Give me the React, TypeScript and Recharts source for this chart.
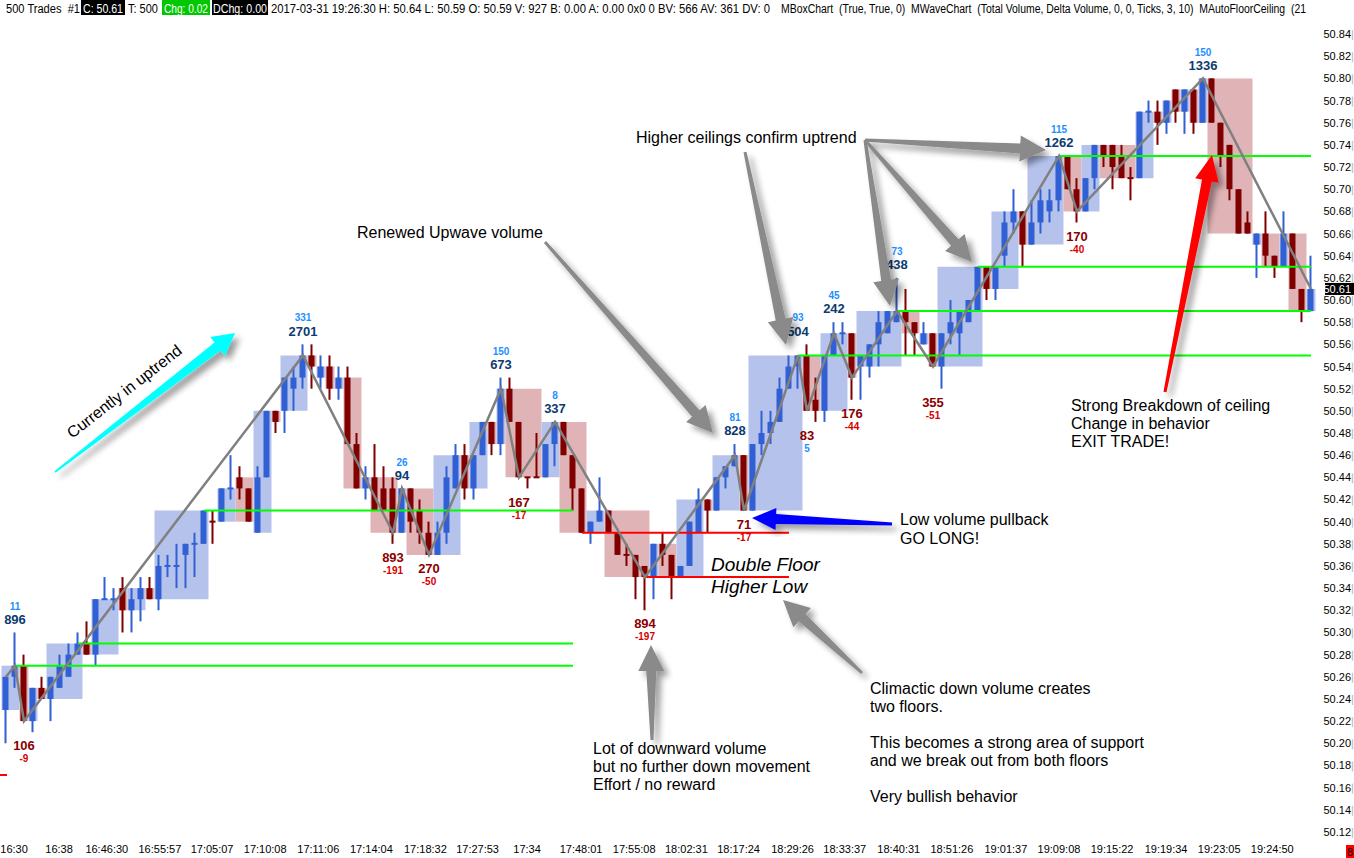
import React from 'react';
import { ComposedChart, Bar, Line, Scatter, XAxis, YAxis, ReferenceArea, ReferenceLine } from 'recharts';

// ---------- data ----------
const opens = [
  50.23, 50.26, 50.27, 50.22, 50.25, 50.24, 50.25, 50.26, 50.28, 50.29,
  50.28, 50.33, 50.33, 50.34, 50.32, 50.33, 50.34, 50.33, 50.36, 50.36,
  50.37, 50.38, 50.38, 50.40, 50.40, 50.43, 50.44, 50.43, 50.39, 50.44,
  50.50, 50.50, 50.52, 50.53, 50.55, 50.53, 50.54, 50.52, 50.53, 50.47,
  50.43, 50.44, 50.43, 50.43, 50.39, 50.43, 50.41, 50.39, 50.37, 50.39,
  50.43, 50.46, 50.43, 50.46, 50.49, 50.47, 50.52, 50.49, 50.44, 50.44,
  50.44, 50.47, 50.49, 50.46, 50.43, 50.39, 50.40, 50.41, 50.39, 50.37,
  50.37, 50.36, 50.35, 50.38, 50.37, 50.35, 50.36, 50.39, 50.42, 50.41,
  50.44, 50.45, 50.46, 50.41, 50.47, 50.48, 50.49, 50.52, 50.54, 50.55,
  50.51, 50.50, 50.55, 50.57, 50.57, 50.54, 50.54, 50.56, 50.57, 50.58,
  50.59, 50.58, 50.56, 50.57, 50.54, 50.57, 50.57, 50.58, 50.59, 50.63,
  50.61, 50.64, 50.67, 50.68, 50.65, 50.67, 50.68, 50.69, 50.73, 50.70,
  50.68, 50.71, 50.74, 50.74, 50.73, 50.71, 50.71, 50.77, 50.77, 50.76,
  50.79, 50.77, 50.79, 50.76, 50.80, 50.76, 50.74, 50.70, 50.67, 50.65,
  50.66, 50.64, 50.63, 50.66, 50.61, 50.59,
];
const highs = [
  50.26, 50.30, 50.28, 50.25, 50.26, 50.26, 50.28, 50.29, 50.30, 50.31,
  50.33, 50.35, 50.34, 50.35, 50.34, 50.35, 50.35, 50.37, 50.37, 50.38,
  50.38, 50.39, 50.41, 50.41, 50.43, 50.46, 50.45, 50.43, 50.45, 50.50,
  50.50, 50.53, 50.54, 50.56, 50.56, 50.55, 50.55, 50.54, 50.54, 50.48,
  50.45, 50.47, 50.45, 50.44, 50.43, 50.43, 50.42, 50.40, 50.40, 50.45,
  50.47, 50.47, 50.46, 50.49, 50.49, 50.53, 50.53, 50.49, 50.44, 50.48,
  50.47, 50.49, 50.49, 50.46, 50.43, 50.40, 50.44, 50.41, 50.39, 50.38,
  50.37, 50.36, 50.38, 50.39, 50.37, 50.36, 50.40, 50.43, 50.42, 50.44,
  50.45, 50.47, 50.46, 50.47, 50.50, 50.50, 50.53, 50.55, 50.55, 50.56,
  50.53, 50.55, 50.58, 50.58, 50.57, 50.55, 50.56, 50.59, 50.59, 50.62,
  50.61, 50.58, 50.58, 50.57, 50.57, 50.60, 50.59, 50.60, 50.63, 50.63,
  50.63, 50.68, 50.70, 50.68, 50.69, 50.70, 50.70, 50.73, 50.73, 50.71,
  50.71, 50.74, 50.74, 50.74, 50.74, 50.72, 50.77, 50.78, 50.78, 50.78,
  50.79, 50.79, 50.79, 50.80, 50.80, 50.76, 50.74, 50.70, 50.68, 50.66,
  50.68, 50.64, 50.68, 50.66, 50.61, 50.64,
];
const lows = [
  50.20, 50.25, 50.22, 50.21, 50.24, 50.22, 50.25, 50.26, 50.28, 50.28,
  50.27, 50.33, 50.32, 50.30, 50.30, 50.31, 50.33, 50.32, 50.35, 50.34,
  50.34, 50.35, 50.38, 50.38, 50.40, 50.42, 50.42, 50.40, 50.39, 50.44,
  50.48, 50.48, 50.50, 50.52, 50.52, 50.52, 50.51, 50.51, 50.47, 50.43,
  50.42, 50.41, 50.41, 50.38, 50.39, 50.39, 50.38, 50.37, 50.37, 50.38,
  50.43, 50.42, 50.42, 50.46, 50.46, 50.46, 50.49, 50.44, 50.43, 50.44,
  50.44, 50.45, 50.46, 50.41, 50.39, 50.38, 50.40, 50.39, 50.37, 50.36,
  50.33, 50.32, 50.33, 50.36, 50.33, 50.35, 50.36, 50.39, 50.39, 50.41,
  50.43, 50.45, 50.41, 50.41, 50.46, 50.47, 50.49, 50.52, 50.52, 50.50,
  50.49, 50.49, 50.55, 50.56, 50.51, 50.51, 50.53, 50.54, 50.57, 50.58,
  50.55, 50.55, 50.56, 50.54, 50.52, 50.56, 50.55, 50.58, 50.59, 50.60,
  50.60, 50.63, 50.66, 50.63, 50.65, 50.66, 50.67, 50.68, 50.70, 50.67,
  50.68, 50.70, 50.72, 50.70, 50.71, 50.69, 50.71, 50.76, 50.74, 50.75,
  50.76, 50.75, 50.75, 50.76, 50.76, 50.72, 50.69, 50.66, 50.66, 50.62,
  50.63, 50.62, 50.63, 50.61, 50.58, 50.59,
];
const closes = [
  50.26, 50.27, 50.22, 50.25, 50.24, 50.26, 50.27, 50.28, 50.29, 50.28,
  50.33, 50.33, 50.33, 50.32, 50.33, 50.34, 50.33, 50.36, 50.36, 50.36,
  50.38, 50.38, 50.41, 50.40, 50.43, 50.43, 50.43, 50.40, 50.44, 50.50,
  50.49, 50.53, 50.53, 50.55, 50.54, 50.54, 50.52, 50.53, 50.47, 50.43,
  50.44, 50.41, 50.41, 50.39, 50.43, 50.40, 50.39, 50.37, 50.39, 50.44,
  50.46, 50.43, 50.46, 50.49, 50.47, 50.52, 50.49, 50.44, 50.44, 50.44,
  50.47, 50.49, 50.46, 50.43, 50.39, 50.40, 50.41, 50.39, 50.37, 50.37,
  50.35, 50.35, 50.38, 50.37, 50.35, 50.36, 50.40, 50.42, 50.41, 50.44,
  50.45, 50.46, 50.41, 50.47, 50.48, 50.49, 50.52, 50.54, 50.55, 50.50,
  50.50, 50.55, 50.57, 50.57, 50.53, 50.55, 50.56, 50.58, 50.59, 50.59,
  50.58, 50.57, 50.57, 50.54, 50.57, 50.58, 50.59, 50.60, 50.63, 50.61,
  50.63, 50.67, 50.68, 50.65, 50.67, 50.69, 50.69, 50.73, 50.70, 50.68,
  50.71, 50.74, 50.73, 50.72, 50.71, 50.71, 50.77, 50.77, 50.76, 50.78,
  50.77, 50.79, 50.76, 50.80, 50.76, 50.73, 50.70, 50.66, 50.66, 50.66,
  50.64, 50.63, 50.66, 50.61, 50.59, 50.61,
];

// wave pivots (bar index), total volume and delta volume of each wave
const pivotIdx = [1, 2, 33, 43, 44, 47, 55, 57, 61, 71, 81, 82, 88, 89, 92, 94, 99, 103, 117, 119, 133];
const pivotVol = [896, 106, 2701, 893, 94, 270, 673, 167, 337, 894, 828, 71, 504, 83, 242, 176, 438, 355, 1262, 170, 1336];
const pivotDelta = [11, -9, 331, -191, 26, -50, 150, -17, 8, -197, 81, -17, 93, 5, 45, -44, 73, -51, 115, -40, 150];
const waveStart = 0;
const waveEnd = 145;

// floor / ceiling levels
const greenFrom = [1, 8, 22, 88, 99, 108, 117];
const greenTo = [63, 63, 63, 145, 145, 145, 145];
const greenPrice = [50.27, 50.29, 50.41, 50.55, 50.59, 50.63, 50.73];
const redFrom = [64, 71];
const redTo = [87, 87];
const redPrice = [50.39, 50.35];

// axis ticks (x ticks are placed in bar units)
const xTickPos = [0.9, 5.9, 11.2, 17.1, 22.9, 28.8, 34.7, 40.6, 46.6, 52.4, 57.9, 63.9, 69.8, 75.6, 81.4, 87.4, 93.2, 99.2, 105.1, 111.1, 117, 122.9, 128.9, 134.8, 140.7];
const xTickLabels = ['16:30', '16:38', '16:46:30', '16:55:57', '17:05:07', '17:10:08', '17:11:06', '17:14:04', '17:18:32', '17:27:53', '17:34', '17:48:01', '17:55:08', '18:02:31', '18:17:24', '18:29:26', '18:33:37', '18:40:31', '18:51:26', '19:01:37', '19:09:08', '19:15:22', '19:19:34', '19:23:05', '19:24:50'];
const yTicks = [50.12, 50.14, 50.16, 50.18, 50.20, 50.22, 50.24, 50.26, 50.28, 50.30, 50.32, 50.34, 50.36, 50.38, 50.40, 50.42, 50.44, 50.46, 50.48, 50.50, 50.52, 50.54, 50.56, 50.58, 50.60, 50.62, 50.64, 50.66, 50.68, 50.70, 50.72, 50.74, 50.76, 50.78, 50.80, 50.82, 50.84];

// ---------- styles ----------
const FONT = '"Liberation Sans", Arial, sans-serif';
const BLUE = '#3160d4';
const DRED = '#800000';
const BOX_BLUE = '#b5c3ec';
const BOX_RED = '#e0b4b7';
const GREEN = '#00ff00';
const RED = '#ff0000';
const X_MIN = -2 / 3;
const X_MAX = 145.78;

// ---------- derived tables ----------
const upFlags: boolean[] = [];
closes.forEach((c, k) => {
  const o = opens[k];
  let up: boolean;
  if (c > o) up = true;
  else if (c < o) up = false;
  else if (k === 0) up = true;
  else if (c > closes[k - 1]) up = true;
  else if (c < closes[k - 1]) up = false;
  else up = upFlags[k - 1];
  upFlags.push(up);
});

const zigSet = new Set([waveStart, ...pivotIdx, waveEnd]);
const rows = closes.map((c, k) => ({
  k,
  o: opens[k],
  h: highs[k],
  l: lows[k],
  c,
  up: upFlags[k],
  zig: zigSet.has(k) ? c : null,
}));

type Run = { start: number; end: number; lo: number; hi: number; up: boolean };
const runs: Run[] = [];
rows.forEach((r) => {
  const lo = Math.min(r.o, r.c);
  const hi = Math.max(r.o, r.c);
  const last = runs[runs.length - 1];
  if (last && last.up === r.up) {
    last.end = r.k;
    last.lo = Math.min(last.lo, lo);
    last.hi = Math.max(last.hi, hi);
  } else {
    runs.push({ start: r.k, end: r.k, lo, hi, up: r.up });
  }
});

const zigSeq = [waveStart, ...pivotIdx, waveEnd];
const labelRows = pivotIdx.map((k, i) => {
  const prev = closes[zigSeq[i]];
  const peak = closes[k] > prev;
  const anchor = peak ? Math.max(highs[k], highs[k + 1]) : Math.min(lows[k], lows[k + 1]);
  return { k, anchor, peak, vol: pivotVol[i], delta: pivotDelta[i] };
});

// ---------- shapes ----------
function Candle(props: any) {
  const { x, y, width, height, payload } = props;
  if (!payload || x == null || y == null || height == null) return null;
  const top = height < 0 ? y + height : y;
  const hgt = Math.abs(height);
  const cx = x + width / 2;
  const span = payload.h - payload.l;
  const py = (p: number) => top + ((payload.h - p) / span) * hgt;
  const color = payload.up ? BLUE : DRED;
  const bt = py(Math.max(payload.o, payload.c));
  const bb = py(Math.min(payload.o, payload.c));
  return (
    <g>
      <rect x={cx - 1} y={top} width={2} height={hgt} fill={color} />
      {bb - bt < 1.5 ? (
        <rect x={cx - 3} y={bt - 1} width={6} height={2} fill={color} />
      ) : (
        <rect x={cx - 3} y={bt} width={6} height={bb - bt} fill={color} />
      )}
    </g>
  );
}

function PivotLabel(props: any) {
  const { cx, cy, payload } = props;
  if (cx == null || cy == null || !payload) return null;
  const peak = payload.peak;
  const bigY = peak ? cy - 13.5 : cy + 13.5;
  const smallY = peak ? cy - 26.5 : cy + 26.5;
  return (
    <g fontFamily={FONT} fontWeight="bold">
      <text x={cx} y={bigY} dy="0.36em" textAnchor="middle" fontSize={13} fill={peak ? '#0c3b6f' : '#8b0000'}>
        {payload.vol}
      </text>
      <text x={cx} y={smallY} dy="0.36em" textAnchor="middle" fontSize={10} fill={payload.delta >= 0 ? '#1e90ff' : '#d40000'}>
        {payload.delta}
      </text>
    </g>
  );
}

function XTick(props: any) {
  const { x, payload } = props;
  const i = xTickPos.indexOf(payload.value);
  return (
    <text x={x} y={853} textAnchor="middle" fontSize={11} fontFamily={FONT} fill="#000">
      {i >= 0 ? xTickLabels[i] : ''}
    </text>
  );
}

function YTick(props: any) {
  const { y, payload } = props;
  return (
    <g>
      <text x={1351} y={y} dy={4} textAnchor="end" fontSize={11} fontFamily={FONT} fill="#000">
        {Number(payload.value).toFixed(2)}
      </text>
      <line x1={1352.5} x2={1352.5} y1={y - 4} y2={y + 6} stroke="#c8c8c8" strokeWidth={1.5} />
    </g>
  );
}

// ---------- overlay (annotations) ----------
function arrowPts(x1: number, y1: number, x2: number, y2: number, w0: number, w1: number, hl: number, hw: number) {
  const dx = x2 - x1;
  const dy = y2 - y1;
  const len = Math.hypot(dx, dy);
  const ux = dx / len;
  const uy = dy / len;
  const nx = -uy;
  const ny = ux;
  const bx = x2 - ux * hl;
  const by = y2 - uy * hl;
  const pts = [
    [x1 + nx * w0, y1 + ny * w0],
    [bx + nx * w1, by + ny * w1],
    [bx + nx * hw, by + ny * hw],
    [x2, y2],
    [bx - nx * hw, by - ny * hw],
    [bx - nx * w1, by - ny * w1],
    [x1 - nx * w0, y1 - ny * w0],
  ];
  return pts.map((p) => p[0].toFixed(1) + ',' + p[1].toFixed(1)).join(' ');
}

function Arrow({ a, color }: { a: number[]; color: string }) {
  return <polygon points={arrowPts(a[0], a[1], a[2], a[3], 1.5, 5, 26, 13)} fill={color} filter="url(#ashadow)" />;
}

const grayArrows = [
  [545, 242, 713, 433],
  [745, 152, 786, 345],
  [865, 140, 1046, 150],
  [865, 140, 890, 306],
  [865, 140, 972, 262],
  [862, 673, 783, 600],
  [652, 740, 651, 645],
];

function T({ x, y, children, size = 16, italic = false }: any) {
  return (
    <text x={x} y={y} fontSize={size} fontFamily={FONT} fill="#000" fontStyle={italic ? 'italic' : 'normal'}>
      {children}
    </text>
  );
}

function Overlay() {
  const lastY = 23 + ((50.85 - closes[closes.length - 1]) / 0.74) * 820;
  const hs: any = { fontSize: 12, fontFamily: FONT, lengthAdjust: 'spacingAndGlyphs', style: { whiteSpace: 'pre' } };
  return (
    <svg width={1354} height={858} style={{ position: 'absolute', left: 0, top: 0, pointerEvents: 'none' }}>
      <defs>
        <filter id="ashadow" x="-30%" y="-30%" width="160%" height="160%">
          <feGaussianBlur in="SourceAlpha" stdDeviation="3" />
          <feOffset dx="5" dy="5" result="b" />
          <feComponentTransfer>
            <feFuncA type="linear" slope="0.4" />
          </feComponentTransfer>
          <feMerge>
            <feMergeNode />
            <feMergeNode in="SourceGraphic" />
          </feMerge>
        </filter>
      </defs>

      {/* header */}
      <text x={6} y={12.5} {...hs} textLength={74}>500 Trades  #1</text>
      <rect x={81} y={0} width={44} height={15} fill="#000" />
      <text x={83} y={12.5} {...hs} fill="#fff" textLength={40}>C: 50.61</text>
      <text x={128} y={12.5} {...hs} textLength={30}>T: 500</text>
      <rect x={162} y={0} width={48} height={15} fill="#00c800" />
      <text x={164} y={12.5} {...hs} fill="#fff" textLength={44}>Chg: 0.02</text>
      <rect x={212} y={0} width={56} height={15} fill="#000" />
      <text x={213} y={12.5} {...hs} fill="#fff" textLength={54}>DChg: 0.00</text>
      <text x={271} y={12.5} {...hs} textLength={499}>2017-03-31 19:26:30 H: 50.64 L: 50.59 O: 50.59 V: 927 B: 0.00 A: 0.00 0x0 0 BV: 566 AV: 361 DV: 0</text>
      <text x={781} y={12.5} {...hs} textLength={525}>MBoxChart  (True, True, 0)  MWaveChart  (Total Volume, Delta Volume, 0, 0, Ticks, 3, 10)  MAutoFloorCeiling  (21</text>

      {/* last price marker */}
      <rect x={1325} y={lastY - 6} width={29} height={12} fill="#000" />
      <text x={1351} y={lastY} dy={4} textAnchor="end" fontSize={11} fontFamily={FONT} fill="#fff">{closes[closes.length - 1].toFixed(2)}</text>
      <rect x={1346} y={845} width={8} height={13} fill="#ff0000" />
      <text x={1350} y={856} textAnchor="middle" fontSize={11} fontFamily={FONT} fill="#000">8</text>
      <rect x={0} y={774} width={7} height={2} fill="#ff0000" />

      {/* arrows */}
      <polygon points={arrowPts(55, 472, 235, 333, 1, 5, 22, 12)} fill="#00ffff" filter="url(#ashadow)" />
      {grayArrows.map((a, i) => (
        <Arrow key={i} a={a} color="#8a8a8a" />
      ))}
      <polygon points={arrowPts(892, 524, 752, 518, 1.5, 5, 24, 11)} fill="#0000ff" filter="url(#ashadow)" />
      <polygon points={arrowPts(1165, 392, 1212, 155, 1.5, 5, 26, 12)} fill="#ff0000" filter="url(#ashadow)" />

      {/* texts */}
      <text x={124} y={391} dy={6} textAnchor="middle" fontSize={16} fontFamily={FONT} fill="#000" transform="rotate(-38 124 391)">Currently in uptrend</text>
      <T x={357} y={238}>Renewed Upwave volume</T>
      <T x={636} y={143}>Higher ceilings confirm uptrend</T>
      <T x={900} y={525}>Low volume pullback</T>
      <T x={900} y={544}>GO LONG!</T>
      <T x={711} y={571} size={19} italic>Double Floor</T>
      <T x={711} y={593} size={19} italic>Higher Low</T>
      <T x={870} y={694}>Climactic down volume creates</T>
      <T x={870} y={712}>two floors.</T>
      <T x={870} y={748}>This becomes a strong area of support</T>
      <T x={870} y={766}>and we break out from both floors</T>
      <T x={870} y={802}>Very bullish behavior</T>
      <T x={593} y={754}>Lot of downward volume</T>
      <T x={593} y={772}>but no further down movement</T>
      <T x={593} y={790}>Effort / no reward</T>
      <T x={1071} y={411}>Strong Breakdown of ceiling</T>
      <T x={1071} y={429}>Change in behavior</T>
      <T x={1071} y={447}>EXIT TRADE!</T>
    </svg>
  );
}

// ---------- chart ----------
export default function App() {
  return (
    <div style={{ position: 'absolute', left: 0, top: 0, width: 1354, height: 858, background: '#fff', overflow: 'hidden' }}>
      <ComposedChart width={1354} height={858} data={rows} margin={{ top: 23, right: 0, bottom: 0, left: 0 }}>
        <XAxis
          dataKey="k"
          type="number"
          domain={[X_MIN, X_MAX]}
          allowDataOverflow
          ticks={xTickPos}
          interval={0}
          tick={(p: any) => <XTick {...p} />}
          tickLine={false}
          axisLine={false}
          height={15}
        />
        <YAxis
          orientation="right"
          type="number"
          domain={[50.11, 50.85]}
          allowDataOverflow
          ticks={yTicks}
          interval={0}
          tick={(p: any) => <YTick {...p} />}
          tickLine={false}
          axisLine={false}
          width={36}
        />
        {runs.map((r, i) => (
          <ReferenceArea
            key={'b' + i}
            x1={r.start - 0.5}
            x2={r.end + 0.5}
            y1={r.lo}
            y2={r.hi}
            fill={r.up ? BOX_BLUE : BOX_RED}
            fillOpacity={1}
            stroke="none"
            ifOverflow="hidden"
          />
        ))}
        <Bar dataKey={(d: any) => [d.l, d.h]} barSize={8} shape={(p: any) => <Candle {...p} />} isAnimationActive={false} />
        {greenFrom.map((f, i) => (
          <ReferenceLine
            key={'g' + i}
            segment={[
              { x: f, y: greenPrice[i] },
              { x: greenTo[i], y: greenPrice[i] },
            ]}
            stroke={GREEN}
            strokeWidth={2}
            ifOverflow="visible"
          />
        ))}
        {redFrom.map((f, i) => (
          <ReferenceLine
            key={'r' + i}
            segment={[
              { x: f, y: redPrice[i] },
              { x: redTo[i], y: redPrice[i] },
            ]}
            stroke={RED}
            strokeWidth={2}
            ifOverflow="visible"
          />
        ))}
        <Line
          dataKey="zig"
          connectNulls
          stroke="#808080"
          strokeWidth={2.5}
          dot={false}
          activeDot={false}
          isAnimationActive={false}
        />
        <Scatter data={labelRows} dataKey="anchor" shape={(p: any) => <PivotLabel {...p} />} isAnimationActive={false} />
      </ComposedChart>
      <Overlay />
    </div>
  );
}
